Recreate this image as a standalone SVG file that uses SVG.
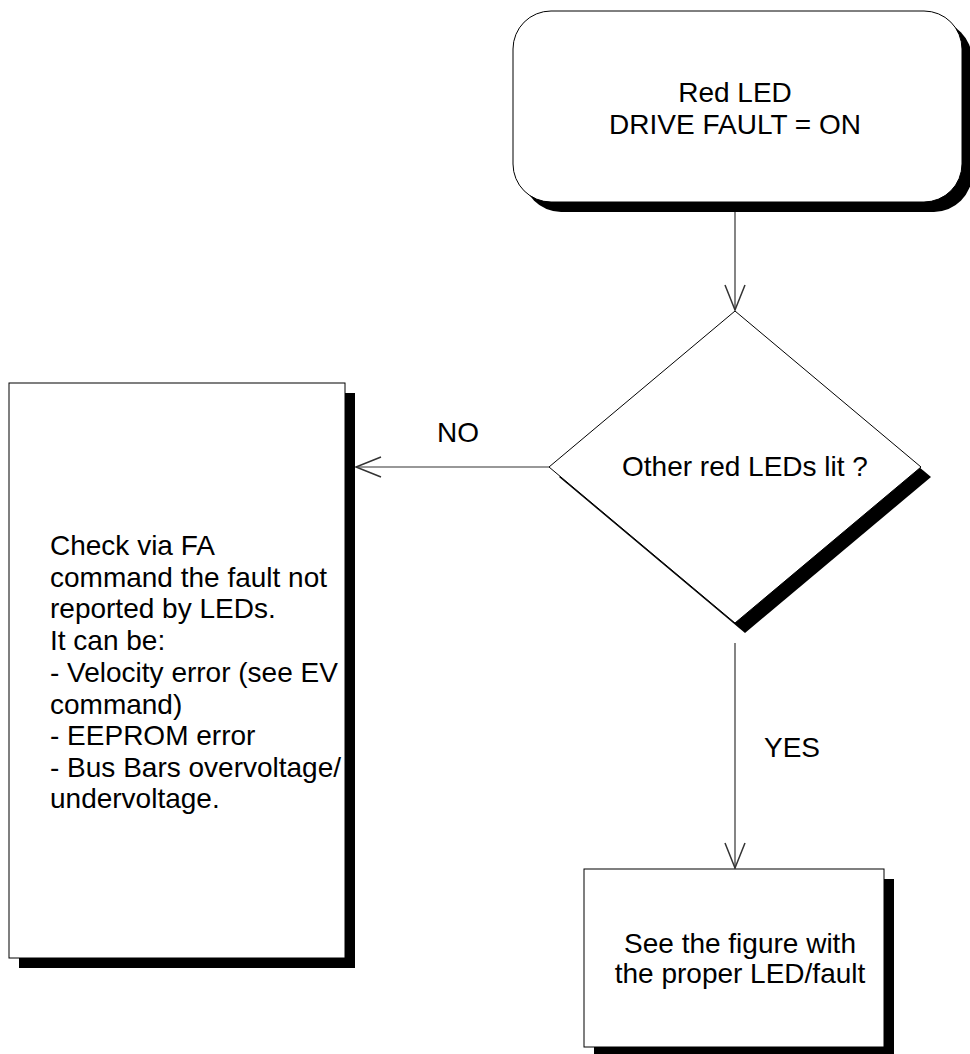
<svg xmlns="http://www.w3.org/2000/svg" width="970" height="1054" viewBox="0 0 970 1054">
<style>
.shape{fill:#fff;stroke:#000;stroke-width:1}
.shadow{fill:#000;stroke:none}
.conn{fill:none;stroke:#333;stroke-width:1.2}
text{font-family:"Liberation Sans",Arial,sans-serif;font-size:28px;fill:#000}
.c{text-anchor:middle}
</style>
<defs>
<marker id="arr" markerUnits="userSpaceOnUse" markerWidth="30" markerHeight="30" viewBox="-22 -10 24 20" refX="0" refY="0" orient="auto" overflow="visible">
<path d="M-20,-8 L0,0 L-20,8" fill="none" stroke="#333" stroke-width="1.2"/>
</marker>
</defs>
<rect width="970" height="1054" fill="#fff"/>
<g id="connectors">
<line class="conn" x1="735" y1="212" x2="735" y2="310" marker-end="url(#arr)"/>
<line class="conn" x1="549" y1="467" x2="356" y2="467" marker-end="url(#arr)"/>
<line class="conn" x1="735" y1="643" x2="735" y2="868" marker-end="url(#arr)"/>
<text x="458" y="442" class="c">NO</text>
<text x="792" y="757" class="c">YES</text>
</g>
<g id="start">
<rect class="shadow" x="523" y="21" width="449" height="191" rx="38" ry="38"/>
<rect class="shape" x="513" y="11" width="449" height="191" rx="38" ry="38"/>
<text x="735" y="102" class="c">Red LED</text>
<text x="735" y="134" class="c">DRIVE FAULT = ON</text>
</g>
<g id="decision">
<polygon class="shadow" points="745,321 931,477 745,633 559,477"/>
<polygon class="shape" points="735,311 921,467 735,623 549,467"/>
<text x="745" y="476" class="c">Other red LEDs lit ?</text>
</g>
<g id="check">
<rect class="shadow" x="19" y="393" width="336" height="575"/>
<rect class="shape" x="9" y="383" width="336" height="575"/>
<text x="50" y="555">Check via FA</text>
<text x="50" y="587">command the fault not</text>
<text x="50" y="618">reported by LEDs.</text>
<text x="50" y="650">It can be:</text>
<text x="50" y="682">- Velocity error (see EV</text>
<text x="50" y="714">command)</text>
<text x="50" y="745">- EEPROM error</text>
<text x="50" y="777">- Bus Bars overvoltage/</text>
<text x="50" y="808">undervoltage.</text>
</g>
<g id="see">
<rect class="shadow" x="594" y="879" width="300" height="178"/>
<rect class="shape" x="584" y="869" width="300" height="178"/>
<text x="740" y="953" class="c">See the figure with</text>
<text x="740" y="983" class="c">the proper LED/fault</text>
</g>
</svg>
